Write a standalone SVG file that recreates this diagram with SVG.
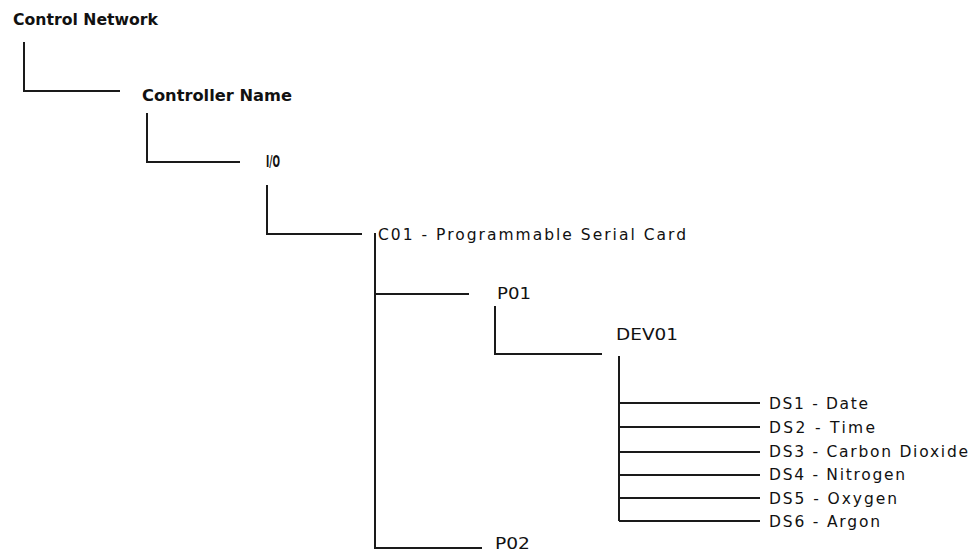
<svg xmlns="http://www.w3.org/2000/svg" width="974" height="552" viewBox="0 0 974 552">
<style>
text{font-family:"DejaVu Sans","Liberation Sans",Arial,sans-serif;font-size:15.5px;fill:#111}
.b{font-weight:bold;font-size:15px}
.c path{fill:none;stroke:#1a1a1a;stroke-width:2}
</style>
<rect width="974" height="552" fill="#fff"/>
<g class="c" id="connectors">
<path d="M24,42V91H120"/>
<path d="M147,113V162H240"/>
<path d="M267,185V234H362"/>
<path d="M375,233V548H482"/>
<path d="M375,294H469"/>
<path d="M495,306V354H602"/>
<path d="M619,356V521"/>
<path d="M619,403H760M619,427H760M619,452H760M619,475H760M619,498H760M619,521H760"/>
</g>
<g id="control-network"><text class="b" x="13" y="25" textLength="145" lengthAdjust="spacingAndGlyphs">Control Network</text></g>
<g id="controller-name"><text class="b" x="142" y="101" textLength="150" lengthAdjust="spacingAndGlyphs">Controller Name</text></g>
<g id="io"><text class="b" x="266" y="167" textLength="14" lengthAdjust="spacingAndGlyphs">I/O</text></g>
<g id="c01"><text x="378" y="240" textLength="308" lengthAdjust="spacing">C01 - Programmable Serial Card</text></g>
<g id="p01"><text x="497" y="299" textLength="34" lengthAdjust="spacingAndGlyphs">P01</text></g>
<g id="dev01"><text x="616" y="340" textLength="62" lengthAdjust="spacingAndGlyphs">DEV01</text></g>
<g id="ds1"><text x="769" y="409" textLength="99" lengthAdjust="spacing">DS1 - Date</text></g>
<g id="ds2"><text x="769" y="433" textLength="106" lengthAdjust="spacing">DS2 - Time</text></g>
<g id="ds3"><text x="769" y="457" textLength="199" lengthAdjust="spacing">DS3 - Carbon Dioxide</text></g>
<g id="ds4"><text x="769" y="480" textLength="136" lengthAdjust="spacing">DS4 - Nitrogen</text></g>
<g id="ds5"><text x="769" y="504" textLength="128" lengthAdjust="spacing">DS5 - Oxygen</text></g>
<g id="ds6"><text x="769" y="527" textLength="111" lengthAdjust="spacing">DS6 - Argon</text></g>
<g id="p02"><text x="495" y="549" textLength="35" lengthAdjust="spacingAndGlyphs">P02</text></g>
</svg>
